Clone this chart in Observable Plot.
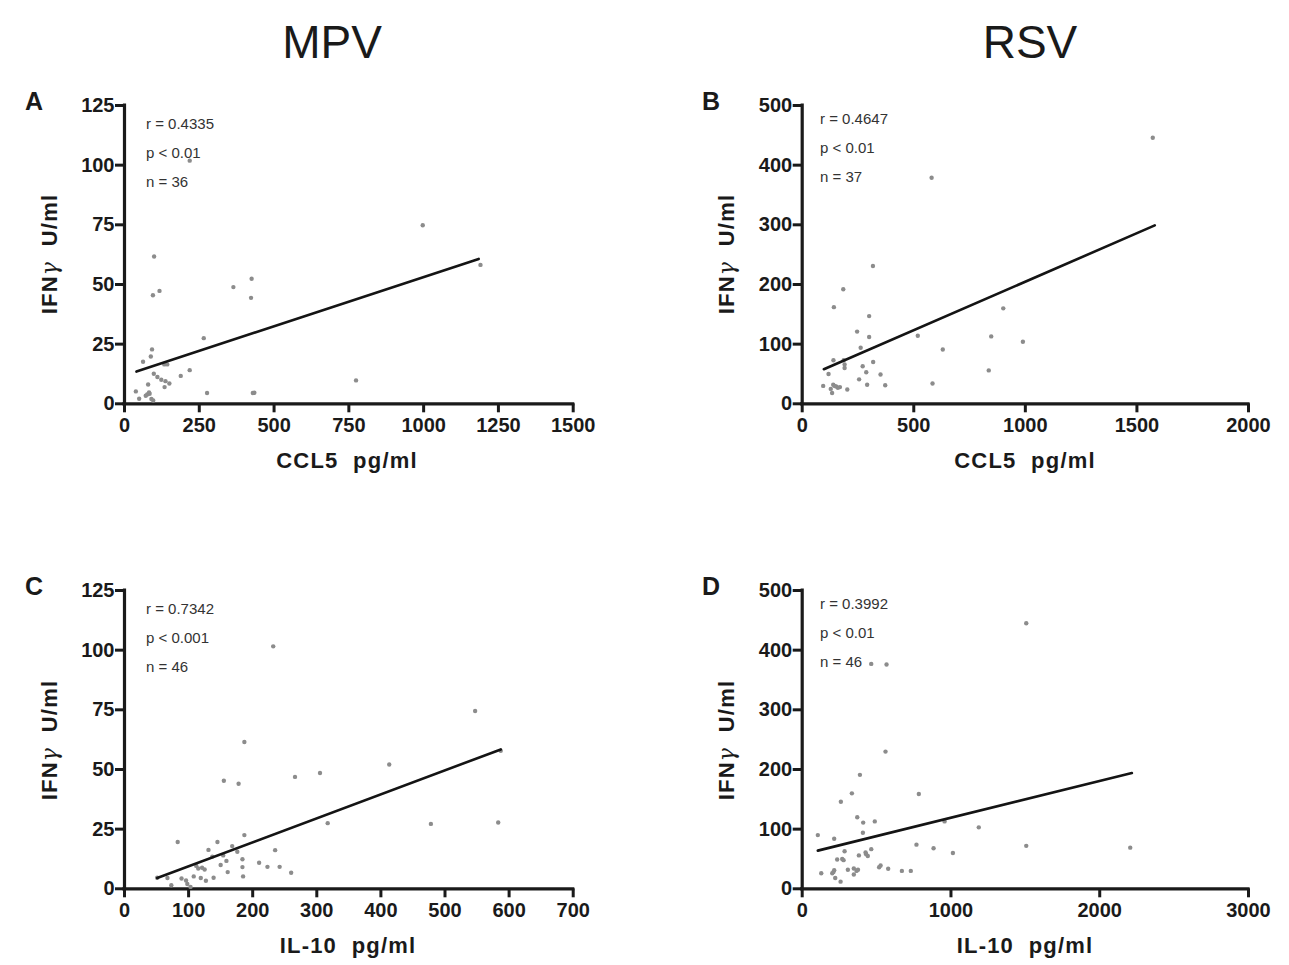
<!DOCTYPE html>
<html>
<head>
<meta charset="utf-8">
<script src="https://cdn.jsdelivr.net/npm/d3@7"></script>
<script src="https://cdn.jsdelivr.net/npm/@observablehq/plot@0.6"></script>
<style>
  html, body { margin: 0; padding: 0; background: #fff; }
  #root { position: relative; width: 1289px; height: 965px; overflow: hidden; background: #fff;
          font-family: "Liberation Sans", Arial, sans-serif; color: #1a1a1a; }
  .abs { position: absolute; white-space: pre; line-height: 1; }
  .title { font-size: 46px; font-weight: normal; transform: translate(-50%, -100%); }
  .letter { font-size: 25px; font-weight: bold; transform: translate(0, -100%); }
  .xlab { font-size: 22px; font-weight: bold; transform: translate(-50%, -100%); letter-spacing: 1.2px; }
  .ylab { font-size: 22px; font-weight: bold; transform: translate(-50%, -50%) rotate(-90deg); letter-spacing: 1.2px; }
  .gam { font-family: "DejaVu Serif", serif; font-weight: normal; font-style: italic; }
  .stat { font-size: 15px; font-weight: normal; color: #333; transform: translate(0, -100%); }
  .plot { position: absolute; }
</style>
</head>
<body>
<div id="root"></div>
<script>
// ---------- data ----------
const columnTitles = ["MPV", "RSV"];
const panelLetters = ["A", "B", "C", "D"];
const xLabels = ["CCL5  pg/ml", "CCL5  pg/ml", "IL-10  pg/ml", "IL-10  pg/ml"];
const yLabelParts = ["IFN", "γ", "  U/ml"];

const statsA = ["r = 0.4335", "p < 0.01", "n = 36"];
const statsB = ["r = 0.4647", "p < 0.01", "n = 37"];
const statsC = ["r = 0.7342", "p < 0.001", "n = 46"];
const statsD = ["r = 0.3992", "p < 0.01", "n = 46"];

const ticksXA = [0, 250, 500, 750, 1000, 1250, 1500];
const ticksXB = [0, 500, 1000, 1500, 2000];
const ticksXC = [0, 100, 200, 300, 400, 500, 600, 700];
const ticksXD = [0, 1000, 2000, 3000];
const ticksYMPV = [0, 25, 50, 75, 100, 125];
const ticksYRSV = [0, 100, 200, 300, 400, 500];

// Panel A: MPV, CCL5 vs IFNγ
const aX = [997,1190,99,95,117,364,425,423,218,265,92,88,62,133,143,218,188,98,110,123,137,134,79,774,38,276,434,429,49,76,71,84,96,90,82,150];
const aY = [74.8,58.2,61.7,45.5,47.3,48.9,52.4,44.4,101.9,27.5,22.8,19.8,17.6,16.5,16.5,14.1,11.7,12.6,11.2,10.1,9.5,7,8.1,9.8,5.2,4.5,4.6,4.5,2.1,3.9,3.4,4.2,1.4,2,4.8,8.5];
const aLineX = [40, 1184];
const aLineY = [13.5, 60.7];

// Panel B: RSV, CCL5 vs IFNγ
const bX = [1571,580,317,184,142,300,901,246,300,518,847,989,262,630,140,186,190,190,318,271,287,836,118,351,255,584,94,291,372,139,152,169,202,134,160,145,128];
const bY = [446,379,231,192,162,147,160,121,112,114,113,104,94,91,73,73,66,60,70,63,53,56,50,49,41,34,30,32,31,32,29,28,24,18,27,30,25];
const bLineX = [97, 1580];
const bLineY = [58, 299];

// Panel C: MPV, IL-10 vs IFNγ
const cX = [232,547,587,187,413,305,266,155,178,317,478,583,187,83,145,168,131,235,154,159,184,210,112,121,125,223,242,184,161,260,185,51,67,89,108,119,127,139,73,98,103,96,137,115,176,150];
const cY = [101.6,74.5,57.8,61.5,52.1,48.5,46.9,45.3,44,27.5,27.2,27.8,22.5,19.6,19.6,17.9,16.3,16.2,14,11.7,12.4,10.9,9.6,8.8,8.1,9.2,9.2,9.1,7,6.7,5.2,4.6,4.5,4.3,5.2,4.5,3.4,4.6,1.5,2,0.8,3.5,13.5,8.5,15.5,10];
const cLineX = [51, 587];
const cLineY = [4.5, 58.4];

// Panel D: RSV, IL-10 vs IFNγ
const dX = [1506,464,567,560,388,334,784,260,370,410,488,957,1187,408,105,215,768,883,1013,1506,2205,285,464,381,426,441,235,269,527,517,578,670,730,307,347,365,347,215,202,128,222,258,375,210,278,430];
const dY = [445,377,376,230,191,160,159,146,120,111,113,113,103,94,90,84,74,68,60,72,69,63,66.5,56,61,55,49,50,39,36,33.5,30,30,32,34,30,24,31,26,26,18,12,32,28,48,58];
const dLineX = [105, 2216];
const dLineY = [64, 194];

// ---------- layout ----------
const root = document.getElementById("root");
function addText(cls, text, left, top) {
  const d = document.createElement("div");
  d.className = "abs " + cls;
  d.textContent = text;
  d.style.left = left + "px";
  d.style.top = top + "px";
  root.appendChild(d);
  return d;
}
function addYLabel(left, top) {
  const d = addText("ylab", "", left, top);
  d.appendChild(document.createTextNode(yLabelParts[0]));
  const g = document.createElement("span");
  g.className = "gam";
  g.textContent = yLabelParts[1];
  d.appendChild(g);
  d.appendChild(document.createTextNode(yLabelParts[2]));
}

const zip = (xs, ys) => xs.map((x, i) => ({x, y: ys[i]}));

function panel(cfg) {
  const {left, top, width, height, x0, x1, yTop, yBottom, xDomain, yDomain, xTicks, yTicks, xs, ys, lx, ly} = cfg;
  const svg = Plot.plot({
    width, height,
    marginLeft: x0 - left,
    marginRight: left + width - x1,
    marginTop: yTop - top,
    marginBottom: top + height - yBottom,
    x: {domain: xDomain},
    y: {domain: yDomain},
    style: {fontFamily: '"Liberation Sans", Arial, sans-serif', fontWeight: "bold", fontSize: "20px", color: "#1a1a1a", background: "transparent", overflow: "visible"},
    marks: [
      Plot.axisX({ticks: xTicks, tickSize: 9, tickPadding: 5, strokeWidth: 3, fontSize: 20, label: null, tickFormat: d => String(d)}),
      Plot.axisY({ticks: yTicks, tickSize: 9, tickPadding: 1, strokeWidth: 3, fontSize: 20, label: null, tickFormat: d => String(d)}),
      Plot.ruleY([0], {stroke: "#1a1a1a", strokeWidth: 3.2, strokeLinecap: "square"}),
      Plot.ruleX([0], {stroke: "#1a1a1a", strokeWidth: 3.2, strokeLinecap: "square"}),
      Plot.dot(zip(xs, ys), {x: "x", y: "y", r: 2.2, fill: "#8c8c8c", stroke: "none"}),
      Plot.line(zip(lx, ly), {x: "x", y: "y", stroke: "#141414", strokeWidth: 2.6})
    ]
  });
  svg.classList.add("plot");
  svg.style.left = left + "px";
  svg.style.top = top + "px";
  root.appendChild(svg);
}

panel({left: 0, top: 70, width: 640, height: 400, x0: 124, x1: 572.7, yTop: 105, yBottom: 403.3,
       xDomain: [0, 1500], yDomain: [0, 125], xTicks: ticksXA, yTicks: ticksYMPV, xs: aX, ys: aY, lx: aLineX, ly: aLineY});
panel({left: 660, top: 70, width: 629, height: 400, x0: 801.7, x1: 1248, yTop: 105, yBottom: 403.3,
       xDomain: [0, 2000], yDomain: [0, 500], xTicks: ticksXB, yTicks: ticksYRSV, xs: bX, ys: bY, lx: bLineX, ly: bLineY});
panel({left: 0, top: 555, width: 640, height: 400, x0: 124, x1: 572.7, yTop: 590, yBottom: 888.3,
       xDomain: [0, 700], yDomain: [0, 125], xTicks: ticksXC, yTicks: ticksYMPV, xs: cX, ys: cY, lx: cLineX, ly: cLineY});
panel({left: 660, top: 555, width: 629, height: 400, x0: 801.7, x1: 1248, yTop: 590, yBottom: 888.3,
       xDomain: [0, 3000], yDomain: [0, 500], xTicks: ticksXD, yTicks: ticksYRSV, xs: dX, ys: dY, lx: dLineX, ly: dLineY});

// titles
addText("title", columnTitles[0], 332, 65);
addText("title", columnTitles[1], 1030, 65);
// panel letters
addText("letter", panelLetters[0], 25, 114);
addText("letter", panelLetters[1], 702, 114);
addText("letter", panelLetters[2], 25, 599);
addText("letter", panelLetters[3], 702, 599);
// axis labels
addText("xlab", xLabels[0], 347, 472);
addText("xlab", xLabels[1], 1025, 472);
addText("xlab", xLabels[2], 348, 957);
addText("xlab", xLabels[3], 1025, 957);
addYLabel(50, 254);
addYLabel(727, 254);
addYLabel(50, 740);
addYLabel(727, 740);
// stats
const statSets = [[statsA, 146, 131], [statsB, 820, 126], [statsC, 146, 616], [statsD, 820, 611]];
for (const [lines, x, y] of statSets) {
  lines.forEach((t, i) => addText("stat", t, x, y + i * 29));
}
</script>
</body>
</html>
